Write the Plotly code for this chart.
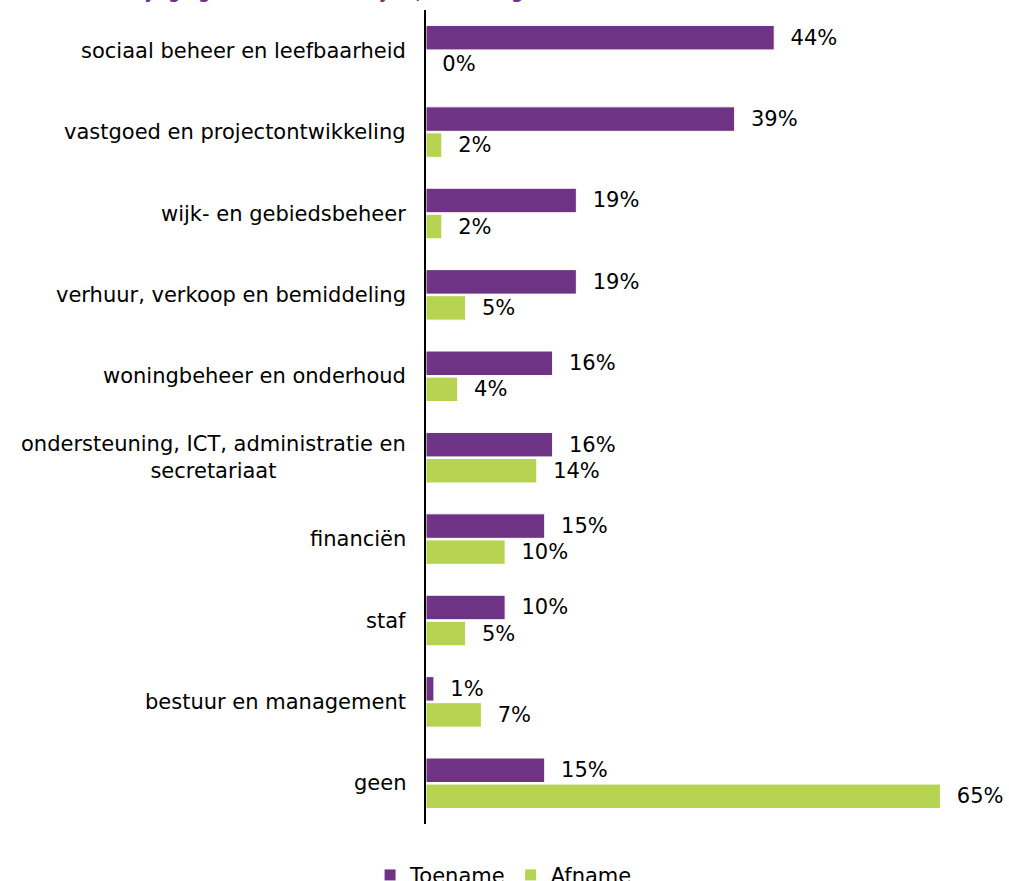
import plotly.graph_objects as go

# Vakgebieden (van boven naar beneden)
categories = [
    "sociaal beheer en leefbaarheid",
    "vastgoed en projectontwikkeling",
    "wijk- en gebiedsbeheer",
    "verhuur, verkoop en bemiddeling",
    "woningbeheer en onderhoud",
    "ondersteuning, ICT, administratie en<br>secretariaat",
    "financiën",
    "staf",
    "bestuur en management",
    "geen",
]
toename = [44, 39, 19, 19, 16, 16, 15, 10, 1, 15]
afname = [0, 2, 2, 5, 4, 14, 10, 5, 7, 65]

PURPLE = "#6E3385"
GREEN = "#B6D452"
FONT = "DejaVu Sans"
FS = 21
PAD = "\u00a0\u00a0"

fig = go.Figure()
fig.add_trace(go.Bar(
    name="Toename", y=categories, x=toename, orientation="h",
    marker=dict(color=PURPLE, line=dict(color="white", width=1)),
    text=[f"{PAD}{v}%" for v in toename], textposition="outside",
    textfont=dict(color="black", size=FS, family=FONT), cliponaxis=False,
))
fig.add_trace(go.Bar(
    name="Afname", y=categories, x=afname, orientation="h",
    marker=dict(color=GREEN, line=dict(color="white", width=1)),
    text=[f"{PAD}{v}%" for v in afname], textposition="outside",
    textfont=dict(color="black", size=FS, family=FONT), cliponaxis=False,
))

# Categorielabels als annotaties, zodat meerregelige labels gecentreerd staan
for cat in categories:
    fig.add_annotation(
        x=0, xref="paper", y=cat, yref="y", text=cat, showarrow=False,
        xanchor="right", align="center", xshift=-18,
        font=dict(color="black", size=FS, family=FONT),
    )

# Titel (valt grotendeels boven de rand)
fig.add_annotation(
    x=0, xref="paper", y=1, yref="paper", yanchor="bottom", yshift=6,
    xshift=-306, xanchor="left", showarrow=False,
    text="<b>Wijziging in de komende 5 jaar, naar vakgebied (n=43)</b>",
    font=dict(color=PURPLE, size=17, family=FONT),
)

fig.update_layout(
    width=1009, height=881,
    margin=dict(l=426, r=29, t=10, b=57, autoexpand=False),
    paper_bgcolor="white", plot_bgcolor="white",
    barmode="group", bargap=0.36, bargroupgap=0.06,
    font=dict(family=FONT, size=FS, color="black"),
    xaxis=dict(range=[0, 70], showticklabels=False, showgrid=False,
               zeroline=False, showline=False, ticks=""),
    yaxis=dict(autorange="reversed", showticklabels=False, showgrid=False,
               showline=True, linecolor="black", linewidth=1.5, ticks="",
               zeroline=False),
    legend=dict(orientation="h", x=0.14, xanchor="center",
                y=-0.063, yanchor="middle", font=dict(size=FS, family=FONT),
                traceorder="normal"),
    showlegend=True,
)

fig.write_html("out.html")
